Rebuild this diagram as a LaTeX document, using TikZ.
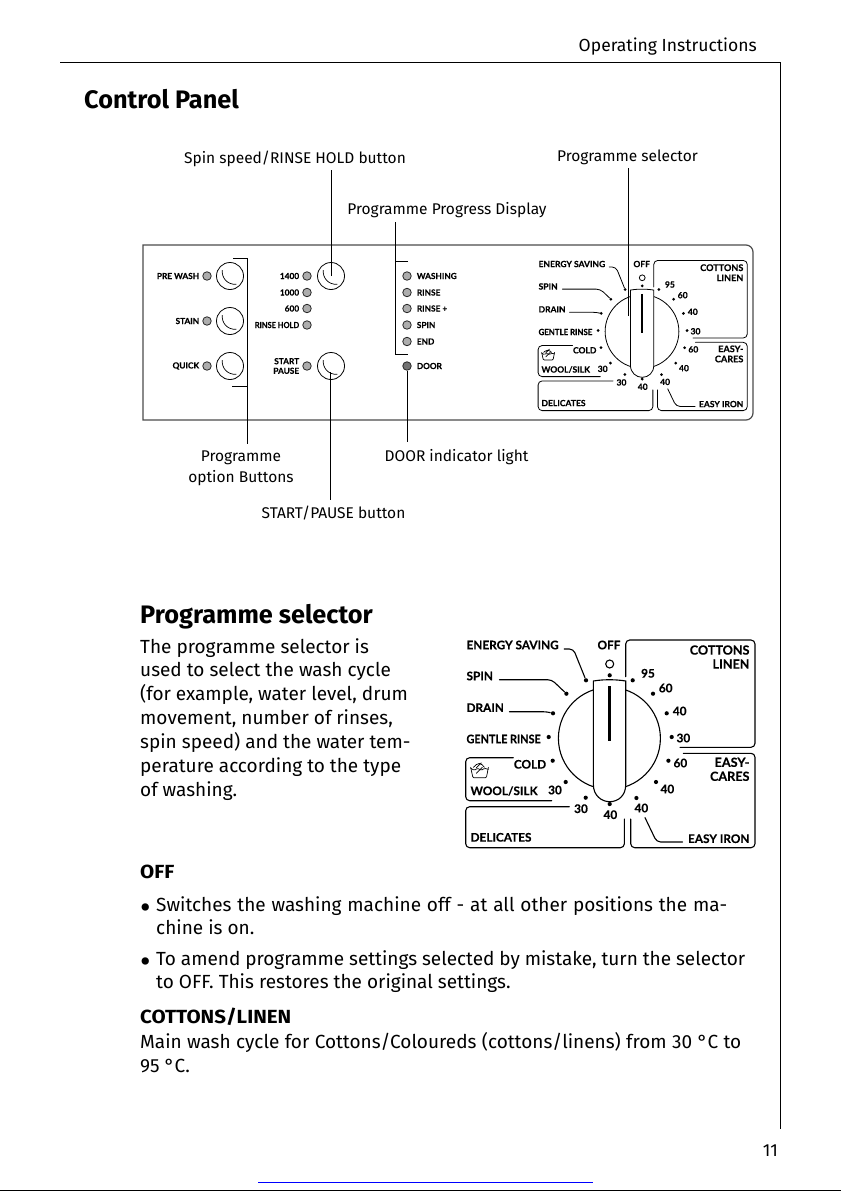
\documentclass[tikz,border=0pt]{standalone}
\usepackage{fontspec}
\setmainfont{Fira Sans}
\newfontfamily\panelfont[BoldFeatures={FakeBold=0.25}]{Lato}
\tikzstyle{body}=[anchor=north west, inner sep=0pt, align=left, font=\fontsize{19}{23.9}\selectfont]
\tikzstyle{boldline}=[anchor=west, inner sep=0pt, xscale=1.08, font=\fontsize{19}{23.9}\selectfont\bfseries]
\tikzstyle{heading}=[anchor=west, inner sep=0pt, font=\fontsize{25.3}{30}\selectfont\bfseries]
\tikzstyle{callout}=[inner sep=0pt, align=center, font=\fontsize{15.5}{21}\selectfont]
\tikzstyle{panellabel}=[inner sep=0pt, align=right, font=\panelfont\fontsize{8.3}{9.6}\selectfont\bfseries]
\tikzstyle{dialtext}=[inner sep=0pt, align=right, font=\panelfont\fontsize{11.8}{13}\selectfont\bfseries]
\tikzstyle{dialbig}=[inner sep=0pt, align=right, font=\panelfont\fontsize{12.6}{14}\selectfont\bfseries]
\tikzstyle{led}=[circle, draw=black!85, fill=black!32, line width=0.8pt, inner sep=0pt, minimum size=8.5pt]
\tikzstyle{knob}=[circle, draw=black, line width=0.8pt, inner sep=0pt, minimum size=27pt]
\tikzstyle{dialdot}=[circle, fill=black, inner sep=0pt, minimum size=4.2pt]
\newcommand{\justline}[2]{\makebox[#1pt][s]{#2}}
\newcommand{\bulletmark}{\makebox[16pt][l]{\raisebox{-7pt}{\scalebox{1.7}{•}}}}
\newcommand{\progdial}[5]{
	\begin{scope}[shift={(#2,#3)}, scale=#4, transform shape, line width=#5, line cap=round, rounded corners=4pt]
		\draw (16.3,-61.6) -- (16.3,-98.3) -- (145.6,-98.3) -- (145.6,9) -- (70.6,9);
		\draw (73.9,15) -- (145.6,15) -- (145.6,109.4) -- (21.3,109.4) -- (21.3,80.7);
		\draw (15,80.7) -- (15,109.4) -- (-143.7,109.4) -- (-143.7,68.4) -- (-40,68.4);
		\draw (-96,19.4) -- (-143.7,19.4) -- (-143.7,62.4) -- (-57.7,62.4);
		\foreach \dotname/\dotx/\doty in {a/0.3/-63, b/23.3/-58, c/43.6/-44.6, d/57.3/-25, e/62.3/-1.3, f/59/22.4, g/46.6/43.7, h/27/59.7, j/-23.7/59.4, k/-43.7/43.7, l/-56.7/22.4, m/-60.7/-1.3, n/-56.4/-25, o/-43/-44.6, p/-23.4/-58}
			\node[dialdot] (#1dot\dotname) at (\dotx,\doty) {};
		\node[circle, draw, inner sep=0pt, minimum size=8pt] (#1offring) at (0.3,-74.3) {};
		\node[dialtext, anchor=west] (#1energy) at (-143.4,-93.3) {ENERGY SAVING};
		\node[dialtext, anchor=west] (#1spin) at (-143.4,-62.3) {SPIN};
		\node[dialtext, anchor=west] (#1drain) at (-143.4,-30.6) {DRAIN};
		\node[dialtext, anchor=west, xscale=0.92] (#1gentle) at (-143.4,0.7) {GENTLE RINSE};
		\node[dialtext, anchor=east] (#1cold) at (-62.7,26) {COLD};
		\node[dialtext, anchor=west] (#1wool) at (-139.4,52.7) {WOOL/SILK};
		\node[dialtext, anchor=west] (#1delicates) at (-139.4,99) {DELICATES};
		\node[dialtext, anchor=east] (#1easyiron) at (140.6,100.4) {EASY IRON};
		\node[dialbig, anchor=east] (#1cottons) at (140.6,-81.3) {COTTONS\\LINEN};
		\node[dialbig, anchor=east] (#1easy) at (140.6,31) {EASY-\\CARES};
		\node[dialtext] (#1off) at (-0.4,-93.3) {OFF};
		\foreach \numname/\numx/\numy/\numtext in {q/-54.4/51.7/30, r/-28.4/70.4/30, s/1/76.4/40, t/32/69.7/40, u/58/50.7/40, v/71/24.7/60, w/74/-0.3/30, x/70.3/-27.3/40, y/56.3/-50.3/60, z/38.6/-65/95}
			\node[dialtext] (#1num\numname) at (\numx,\numy) {\numtext};
		\draw ([shift={(5,4)}]#1energy.east) -- (-36,-89.3) -- (#1dotp);
		\draw ([shift={(6,3.7)}]#1spin.east) -- (-57.7,-58.6) -- (#1doto);
		\draw ([shift={(5,4)}]#1drain.east) -- (-62.7,-26.6) -- (#1dotn);
		\draw ([shift={(-5,3.3)}]#1easyiron.west) -- (47.3,103.7) -- (35.6,79.3);
		\draw[rounded corners=1pt, line width=0.7pt] (-138.7,29) -- (-136.5,39.4) -- (-123,39.4) -- (-121,29);
		\draw[line width=0.7pt, rounded corners=1pt] (-138.7,30) -- (-135,32) -- (-132,30) -- (-128,32) -- (-125,30) -- (-121,31);
		\draw[line width=0.7pt] (-136,29) -- (-130,23.5) -- (-125,29) (-133,29.5) -- (-128,24.5) (-133,35) -- (-127,29);
		\draw[fill=white, rounded corners=0pt] (0,0) circle (51);
		\draw[fill=white, rounded corners=0pt] (-16,-57.3) .. controls (-6,-59) and (6,-59) .. (16.3,-57.3) -- (16.3,46.7) .. controls (16.3,57) and (9,63.4) .. (0.3,63.4) .. controls (-8,63.4) and (-16,57) .. (-16,46.7) -- cycle;
		\draw[line width=3pt*#4/0.723*0.72, line cap=butt, rounded corners=0pt] (0.3,-52) -- (0.3,2.7);
		\node[dialdot] (#1dotbottom) at (0.3,65.7) {};
	\end{scope}
}

\begin{document}
\begin{tikzpicture}[x=1pt, y=-1pt]
	\useasboundingbox[fill=white] (0,0) rectangle (841,1191);
	\node[inner sep=0pt, anchor=east, font=\fontsize{17.5}{21}\selectfont] (pagehead) at (757,47) {Operating Instructions};
	\draw[line width=1pt] (60,62) -- (780,62) -- (780,1129);
	\node[inner sep=0pt, anchor=east, font=\fontsize{17.5}{21}\selectfont] (pagenum) at (778,1151) {11};
	\draw[blue, line width=1pt] (258,1182) -- (593,1182);
	\draw[black, line width=1pt] (0,1190.5) -- (841,1190.5);

	\node[heading] (paneltitle) at (84,99) {Control Panel};
	\draw[black!70, line width=1.2pt, fill=white] (143,245) [rounded corners=7pt] -- (753,245) -- (753,420) [sharp corners] -- (143,420) -- cycle;

	\node[knob] (prewash) at (230,276) {};
	\node[knob] (stain) at (230,321) {};
	\node[knob] (quick) at (230,366) {};
	\node[knob] (speedbtn) at (331,276) {};
	\node[knob] (startbtn) at (331,366) {};
	\foreach \knobname in {prewash, stain, quick, speedbtn, startbtn}
		\draw[line width=0.7pt] ([shift={(-7.7,-6)}] \knobname.center) .. controls +(-0.8,8) and +(-9,0.5) .. +(14,14.3);

	\foreach \ledname/\ledx/\ledy in {ledprewash/207/276, ledstain/207/321, ledquick/207/366, led1400/307/276, led1000/307/292.5, led600/307/308.5, ledhold/307/325, ledstart/307/366, ledwash/407/276, ledrinse/407/292.5, ledrinseplus/407/308.5, ledspin/407/325, ledend/407/341.5}
		\node[led] (\ledname) at (\ledx,\ledy) {};
	\node[led, fill=black!55] (leddoor) at (407,366) {};

	\foreach \ledname/\ledtext in {ledprewash/PRE WASH, ledstain/STAIN, ledquick/QUICK, led1400/1400, led1000/1000, led600/600}
		\node[panellabel, anchor=east, xshift=-3pt] (\ledname text) at (\ledname.west) {\ledtext};
	\node[panellabel, anchor=east, xshift=-3pt, xscale=0.9] (ledholdtext) at (ledhold.west) {RINSE HOLD};
	\node[panellabel, anchor=east, xshift=-3pt] (ledstarttext) at (ledstart.west) {START\\PAUSE};
	\foreach \ledname/\ledtext in {ledwash/WASHING, ledrinse/RINSE, ledrinseplus/RINSE +, ledspin/SPIN, ledend/END, leddoor/DOOR}
		\node[panellabel, anchor=west, xshift=5pt] (\ledname text) at (\ledname.east) {\ledtext};

	\progdial{panel}{642}{331.5}{0.723}{0.8pt}

	\node[callout] (speedlabel) at (295,158.5) {Spin speed/RINSE HOLD button};
	\node[callout] (selectorlabel) at (627.5,157.5) {Programme selector};
	\node[callout] (progresslabel) at (447,210.5) {Programme Progress Display};
	\node[callout] (optionlabel) at (241,468.5) {Programme\\option Buttons};
	\node[callout] (doorlabel) at (456.5,457.5) {DOOR indicator light};
	\node[callout] (startlabel) at (333.5,513.5) {START/PAUSE button};

	\coordinate (selectorend) at (628,316);
	\coordinate (speedend) at (331,276);
	\coordinate (startend) at (330,372);
	\coordinate (doorend) at (407,371);
	\draw[line width=0.9pt] (speedend) -- (331,170);
	\draw[line width=0.9pt] (selectorend) -- (628,168);
	\draw[line width=0.9pt] (startend) -- (330,500);
	\draw[line width=0.9pt] (doorend) -- (407,442);
	\draw[line width=0.9pt] (233,258.5) -- (247.5,258.5) -- (247.5,444);
	\draw[line width=0.9pt] (232,386) -- (247.5,386);
	\draw[line width=0.9pt] (408,261) -- (395.7,261);
	\draw[line width=0.9pt] (395.7,222) -- (395.7,354.5) -- (408,354.5);

	\node[heading] (selectortitle) at (140,616.5) {Programme selector};
	\node[body] (selectortext) at (140,638) {The programme selector is\\used to select the wash cycle\\(for example, water level, drum\\movement, number of rinses,\\spin speed) and the water tem-\\perature according to the type\\of washing.};

	\progdial{large}{609.4}{738.3}{1}{1.1pt}

	\node[boldline] (offtitle) at (140,872) {OFF};
	\node[body] (offone) at (140,896) {\justline{587}{\bulletmark Switches the washing machine off - at all other positions the ma-}\\\hspace*{16pt}chine is on.};
	\node[body] (offtwo) at (140,950) {\justline{605}{\bulletmark To amend programme settings selected by mistake, turn the selector}\\\hspace*{16pt}to OFF. This restores the original settings.};
	\node[boldline] (cottontitle) at (140,1017) {COTTONS/LINEN};
	\node[body] (cottontext) at (140,1032) {\justline{601}{Main wash cycle for Cottons/Coloureds (cottons/linens) from 30 °C to}\\95 °C.};
\end{tikzpicture}
\end{document}
